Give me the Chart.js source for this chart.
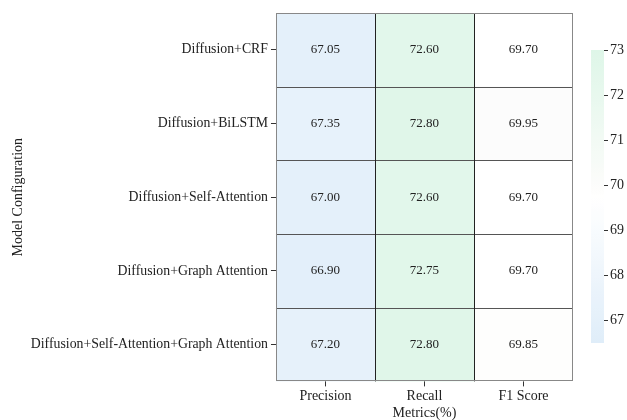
<!DOCTYPE html>
<html>
<head>
<meta charset="utf-8">
<script src="https://cdn.jsdelivr.net/npm/chart.js@4/dist/chart.umd.min.js"></script>
<style>
  html, body { margin: 0; padding: 0; background: #fff; overflow: hidden; }
  #wrap { position: relative; width: 627px; height: 420px; overflow: hidden; }
  #main { position: absolute; left: 0; top: 0; }
  #bar { position: absolute; left: 560px; top: 0; }
</style>
</head>
<body>
<div id="wrap">
  <canvas id="main" width="627" height="422"></canvas>
  <canvas id="bar" width="67" height="420"></canvas>
</div>
<script>
// Ablation results (%)
const models = [
  'Diffusion+CRF',
  'Diffusion+BiLSTM',
  'Diffusion+Self-Attention',
  'Diffusion+Graph Attention',
  'Diffusion+Self-Attention+Graph Attention'
];
const metrics = ['Precision', 'Recall', 'F1 Score'];
const precision = [67.05, 67.35, 67.00, 66.90, 67.20];
const recall    = [72.60, 72.80, 72.60, 72.75, 72.80];
const f1        = [69.70, 69.95, 69.70, 69.70, 69.85];
const colorbarTicks = [67, 68, 69, 70, 71, 72, 73];
const vmin = 66.5, vmax = 73.0;

const FONT = "'Liberation Serif', 'Times New Roman', serif";

// blue -> white -> green colormap
const stops = [
  [66.5, [223, 237, 249]],
  [69.7, [255, 255, 255]],
  [70.0, [252, 252, 251]],
  [73.0, [222, 246, 232]]
];
function colorFor(v) {
  if (v <= stops[0][0]) return `rgb(${stops[0][1].join(',')})`;
  for (let i = 0; i < stops.length - 1; i++) {
    const [a, ca] = stops[i], [b, cb] = stops[i + 1];
    if (v <= b) {
      const t = (v - a) / (b - a);
      const c = ca.map((x, k) => Math.round(x + (cb[k] - x) * t));
      return `rgb(${c.join(',')})`;
    }
  }
  return `rgb(${stops[stops.length - 1][1].join(',')})`;
}

const series = [precision, recall, f1];
const datasets = series.map((vals, col) => ({
  label: metrics[col],
  data: vals.map(() => [col, col + 1]),
  values: vals,
  backgroundColor: vals.map(colorFor),
  borderWidth: 0,
  barPercentage: 1,
  categoryPercentage: 1,
  grouped: false
}));

// write the value in the middle of each cell
const cellText = {
  id: 'cellText',
  afterDatasetsDraw(chart) {
    const ctx = chart.ctx;
    ctx.save();
    ctx.font = `13px ${FONT}`;
    ctx.fillStyle = '#222';
    ctx.textAlign = 'center';
    ctx.textBaseline = 'middle';
    chart.data.datasets.forEach((ds, di) => {
      chart.getDatasetMeta(di).data.forEach((el, i) => {
        const p = el.getCenterPoint();
        ctx.fillText(ds.values[i].toFixed(2), p.x, p.y);
      });
    });
    ctx.restore();
  }
};

// frame and dividing lines of the grid
const gridLines = {
  id: 'gridLines',
  afterDatasetsDraw(chart) {
    const { ctx, chartArea: a, scales: { x, y } } = chart;
    ctx.save();
    ctx.lineWidth = 1;
    ctx.strokeStyle = '#555';
    for (let i = 1; i < models.length; i++) {
      const yy = Math.round((y.getPixelForValue(i - 1) + y.getPixelForValue(i)) / 2) + 0.5;
      ctx.beginPath(); ctx.moveTo(a.left, yy); ctx.lineTo(a.right, yy); ctx.stroke();
    }
    ctx.strokeStyle = '#222';
    for (let c = 1; c < metrics.length; c++) {
      const xx = Math.round(x.getPixelForValue(c)) + 0.5;
      ctx.beginPath(); ctx.moveTo(xx, a.top); ctx.lineTo(xx, a.bottom); ctx.stroke();
    }
    ctx.strokeStyle = '#888';
    ctx.strokeRect(Math.round(a.left) + 0.5, Math.round(a.top) + 0.5,
                   Math.round(a.right - a.left) - 1, Math.round(a.bottom - a.top) - 1);
    ctx.restore();
  }
};

new Chart(document.getElementById('main'), {
  type: 'bar',
  data: { labels: models, datasets },
  options: {
    indexAxis: 'y',
    responsive: false,
    animation: false,
    layout: { padding: { top: 13, right: 54, bottom: 0, left: 10 } },
    plugins: { legend: { display: false }, tooltip: { enabled: false } },
    scales: {
      x: {
        type: 'linear',
        min: 0, max: 3,
        afterBuildTicks(scale) {
          scale.ticks = metrics.map((m, i) => ({ value: i + 0.5 }));
        },
        ticks: {
          callback: (v, i) => metrics[i],
          color: '#222',
          font: { family: FONT, size: 14 },
          padding: 2,
          maxRotation: 0
        },
        grid: { display: true, drawOnChartArea: false, drawTicks: true, tickLength: 5, color: '#333' },
        border: { display: false },
        title: {
          display: true, text: 'Metrics(%)', color: '#222',
          font: { family: FONT, size: 14 }, padding: { top: -2, bottom: 0 }
        }
      },
      y: {
        type: 'category',
        ticks: {
          color: '#222',
          font: { family: FONT, size: 13.8 },
          padding: 3
        },
        grid: { display: true, drawOnChartArea: false, drawTicks: true, tickLength: 5, color: '#333', offset: false },
        border: { display: false },
        title: {
          display: true, text: 'Model Configuration', color: '#222',
          font: { family: FONT, size: 14 }, padding: { top: 0, bottom: 1 }
        }
      }
    }
  },
  plugins: [cellText, gridLines]
});

// colour bar: one floating bar spanning the full value range, painted with the colormap
function colormapGradient(chart) {
  const a = chart.chartArea;
  if (!a || !isFinite(a.top) || !isFinite(a.bottom)) return null;
  const g = chart.ctx.createLinearGradient(0, a.bottom, 0, a.top);
  const n = 40;
  for (let i = 0; i <= n; i++) {
    g.addColorStop(i / n, colorFor(vmin + (vmax - vmin) * i / n));
  }
  return g;
}

new Chart(document.getElementById('bar'), {
  type: 'bar',
  data: {
    labels: [''],
    datasets: [{
      data: [[vmin, vmax]],
      backgroundColor(ctx) { return colormapGradient(ctx.chart) || '#fff'; },
      borderWidth: 0,
      barPercentage: 1,
      categoryPercentage: 1
    }]
  },
  options: {
    responsive: false,
    animation: false,
    layout: { padding: { top: 50, bottom: 77, left: 31, right: 0 } },
    plugins: { legend: { display: false }, tooltip: { enabled: false } },
    scales: {
      x: { display: false },
      y: {
        position: 'right',
        min: vmin, max: vmax,
        afterBuildTicks(scale) { scale.ticks = colorbarTicks.map(v => ({ value: v })); },
        afterFit(scale) { scale.width = 23; },
        ticks: { color: '#222', font: { family: FONT, size: 14 }, padding: 2 },
        grid: { display: true, drawOnChartArea: false, tickLength: 4, color: '#333' },
        border: { display: false }
      }
    }
  }
});
</script>
</body>
</html>
